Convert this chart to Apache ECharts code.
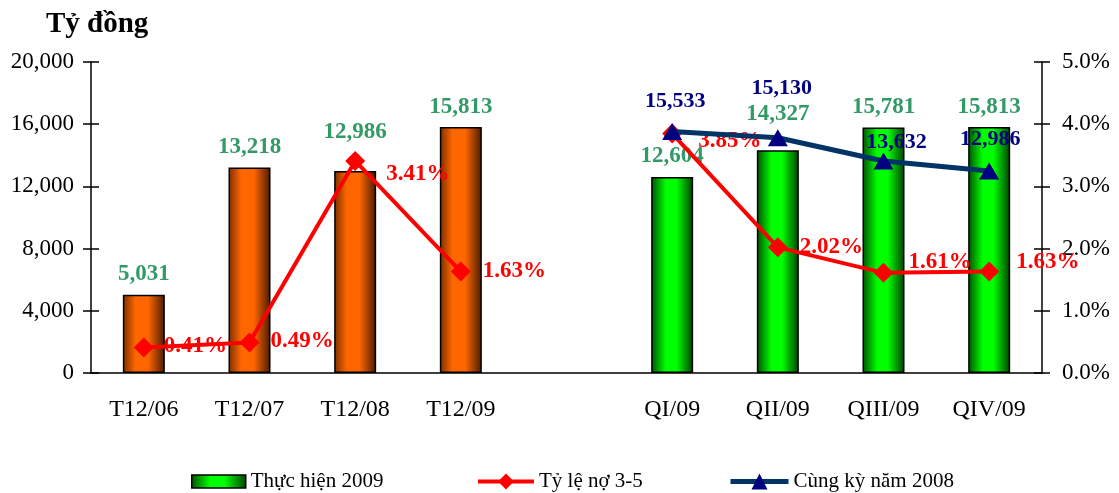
<!DOCTYPE html>
<html>
<head>
<meta charset="utf-8">
<script src="https://cdn.jsdelivr.net/npm/echarts@6/dist/echarts.min.js"></script>
<style>
html,body{margin:0;padding:0;background:#fff}
#chart{width:1119px;height:493px}
</style>
</head>
<body>
<div id="chart"></div>
<script>
var categories = ['T12/06','T12/07','T12/08','T12/09','','QI/09','QII/09','QIII/09','QIV/09'];
var thucHien = [5031, 13218, 12986, 15813, '-', 12604, 14327, 15781, 15813];
var tyLeNo = [0.41, 0.49, 3.41, 1.63, '-', 3.85, 2.02, 1.61, 1.63];
var cungKy = ['-', '-', '-', '-', '-', 15533, 15130, 13632, 12986];

var serif = '"Liberation Serif", "Times New Roman", serif';
var fmt = function(v){ return Number(v).toLocaleString('en-US'); };

var orange = new echarts.graphic.LinearGradient(0,0,1,0,[
	{offset:0,color:'#7a2e00'},{offset:0.3,color:'#ff6600'},
	{offset:0.6,color:'#ff6600'},{offset:1,color:'#4a1a00'}]);
var green = new echarts.graphic.LinearGradient(0,0,1,0,[
	{offset:0,color:'#005000'},{offset:0.35,color:'#00ff00'},
	{offset:0.6,color:'#00ff00'},{offset:1,color:'#004000'}]);

// nhãn đặt tay như bản Excel
var barShift = {2:[0,-19], 6:[0,-16]};
var redShift = {0:[-2,-1],1:[-1,-1],2:[9,13],3:[0,-1],5:[4,8],6:[0,0],7:[3,-11],8:[5,-10]};
var blueShift = {5:[3,-1],6:[4,-20],7:[13,11],8:[1,-2]};

var barData = thucHien.map(function(v,i){
	var d = {value:v};
	if (i < 4) d.itemStyle = {color:orange};
	if (barShift[i]) d.label = {offset:barShift[i]};
	return d;
});
var redData = tyLeNo.map(function(v,i){
	return redShift[i] ? {value:v,label:{offset:redShift[i]}} : v;
});
var blueData = cungKy.map(function(v,i){
	return blueShift[i] ? {value:v,label:{offset:blueShift[i]}} : v;
});

var axisTxt = {color:'#000',fontFamily:serif,fontSize:23};
var blackLine = {color:'#000',width:1.5};
var legendTxt = {fontFamily:serif,fontSize:21,color:'#000'};

var chart = echarts.init(document.getElementById('chart'));
chart.setOption({
	animation:false,
	title:{text:'Tỷ đồng',left:41,top:5,
		textStyle:{fontFamily:serif,fontWeight:'bold',fontSize:29,color:'#000'}},
	legend:[
		{data:[{name:'Thực hiện 2009',icon:'rect'}],left:186,top:466,itemWidth:54,itemHeight:13,
			itemStyle:{borderColor:'#000',borderWidth:1.5},textStyle:legendTxt},
		{data:['Tỷ lệ nợ 3-5'],left:471,top:466,itemWidth:56,itemHeight:20,
			lineStyle:{width:4},textStyle:legendTxt},
		{data:['Cùng kỳ năm 2008'],left:723,top:466,itemWidth:58,itemHeight:20,
			lineStyle:{width:5},textStyle:legendTxt}
	],
	grid:{left:91,right:77,top:62,bottom:120,containLabel:false},
	xAxis:[
		{type:'category',data:categories,
			axisLine:{lineStyle:blackLine},
			axisTick:{length:8,lineStyle:blackLine},
			axisLabel:Object.assign({margin:25,interval:0},axisTxt,{fontSize:24})},
		{type:'category',data:categories,position:'bottom',
			axisLine:{show:false},
			axisTick:{inside:true,length:8,lineStyle:blackLine},
			axisLabel:{show:false}}
	],
	yAxis:[
		{type:'value',min:0,max:20000,interval:4000,position:'left',
			axisLine:{show:true,lineStyle:blackLine},
			axisTick:{show:true,length:8,lineStyle:blackLine},
			splitLine:{show:false},
			axisLabel:Object.assign({margin:17,formatter:fmt},axisTxt)},
		{type:'value',min:0,max:5,interval:1,position:'right',
			axisLine:{show:true,lineStyle:blackLine},
			axisTick:{show:true,length:8,lineStyle:blackLine},
			splitLine:{show:false},
			axisLabel:Object.assign({margin:20,formatter:function(v){return v.toFixed(1)+'%';}},axisTxt)},
		{type:'value',min:0,max:20000,interval:4000,position:'left',
			axisLine:{show:false},
			axisTick:{show:true,inside:true,length:8,lineStyle:blackLine},
			splitLine:{show:false},axisLabel:{show:false}},
		{type:'value',min:0,max:5,interval:1,position:'right',
			axisLine:{show:false},
			axisTick:{show:true,inside:true,length:8,lineStyle:blackLine},
			splitLine:{show:false},axisLabel:{show:false}}
	],
	series:[
		{name:'Thực hiện 2009',type:'bar',data:barData,barWidth:42,z:2,
			itemStyle:{color:green,borderColor:'#000',borderWidth:1.5},
			label:{show:true,position:'top',distance:9,formatter:function(p){return fmt(p.value);},
				color:'#339966',fontFamily:serif,fontWeight:'bold',fontSize:23}},
		{name:'Tỷ lệ nợ 3-5',type:'line',yAxisIndex:1,data:redData,z:3,
			connectNulls:false,symbol:'diamond',symbolSize:20,
			lineStyle:{color:'#ff0000',width:4},
			itemStyle:{color:'#ff0000'},
			label:{show:true,position:'right',distance:12,
				formatter:function(p){return p.value.toFixed(2)+'%';},
				color:'#ff0000',fontFamily:serif,fontWeight:'bold',fontSize:23}},
		{name:'Cùng kỳ năm 2008',type:'line',data:blueData,z:4,
			symbol:'triangle',symbolSize:[20,17],
			lineStyle:{color:'#003366',width:5},
			itemStyle:{color:'#000080'},
			label:{show:true,position:'top',distance:10,formatter:function(p){return fmt(p.value);},
				color:'#000080',fontFamily:serif,fontWeight:'bold',fontSize:22}}
	]
});
</script>
</body>
</html>
